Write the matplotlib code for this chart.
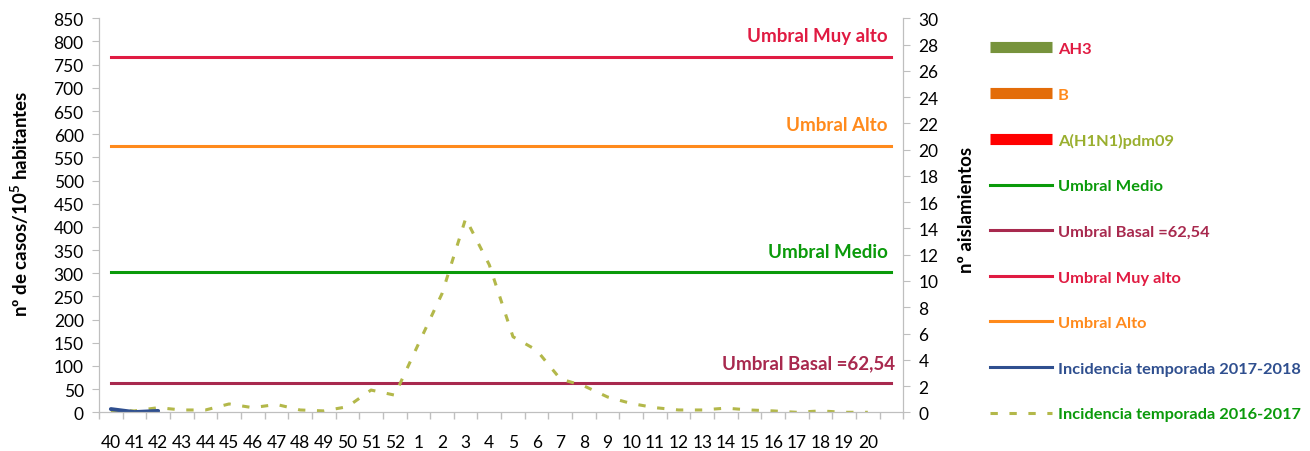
import matplotlib
matplotlib.use("Agg")
import matplotlib.pyplot as plt
from matplotlib.lines import Line2D
import numpy as np

plt.rcParams['font.family'] = ['Lato', 'DejaVu Sans']
plt.rcParams['mathtext.fontset'] = 'custom'
plt.rcParams['mathtext.rm'] = 'Lato'
plt.rcParams['mathtext.bf'] = 'Lato:bold'

# ---- data ----
weeks = ['40', '41', '42', '43', '44', '45', '46', '47', '48', '49', '50', '51', '52',
         '1', '2', '3', '4', '5', '6', '7', '8', '9', '10', '11', '12', '13', '14', '15',
         '16', '17', '18', '19', '20', '']
inc_2017_2018 = [7, 0.5, 3]
inc_2016_2017 = [4, 3, 10, 5, 5, 18, 10, 17, 5, 3, 12, 48, 37,
                 147, 256, 418, 318, 163, 134, 72, 57, 33, 19, 10, 5, 5, 9, 5,
                 3, 0, 3, 0, 0]
ah3 = [0] * len(weeks)
b = [0] * len(weeks)
h1n1 = [0] * len(weeks)
umbral_basal = 62.54
umbral_medio = 303
umbral_alto = 575
umbral_muy_alto = 767
left_ticks = list(range(0, 851, 50))
right_ticks = list(range(0, 31, 2))

# ---- colors ----
c_ah3 = '#77933C'
c_b = '#E36C09'
c_h1n1 = '#FF0000'
c_medio = '#0A9A0A'
c_basal = '#A8294E'
c_muy = '#E01B42'
c_alto = '#FF8A1C'
c_blue = '#2F4F8F'
c_dash = '#B3B84A'
c_h1n1_txt = '#9AAF2F'
gray = '#BFBFBF'

W, H = 1310, 452
fig = plt.figure(figsize=(W / 100, H / 100), dpi=100)
ax = fig.add_axes([99 / W, 1 - 413.3 / H, (903.3 - 99) / W, (413.3 - 19.3) / H])
ax2 = ax.twinx()

x = np.arange(len(weeks))

# bars (isolates, right axis) - none in this period
ax2.bar(x, ah3, color=c_ah3, width=0.6)
ax2.bar(x, b, bottom=ah3, color=c_b, width=0.6)
ax2.bar(x, h1n1, bottom=np.add(ah3, b), color=c_h1n1, width=0.6)

lw = 2.2
ax.plot(x, [umbral_muy_alto] * len(x), color=c_muy, lw=lw)
ax.plot(x, [umbral_alto] * len(x), color=c_alto, lw=lw)
ax.plot(x, [umbral_medio] * len(x), color=c_medio, lw=lw)
ax.plot(x, [umbral_basal] * len(x), color=c_basal, lw=lw)
ax.plot(x[:len(inc_2016_2017)], inc_2016_2017, color=c_dash, lw=lw,
        dashes=(2.4, 3.8), dash_capstyle='butt')
ax.plot(x[:len(inc_2017_2018)], inc_2017_2018, color=c_blue, lw=2.8,
        solid_capstyle='round')

ax.set_xlim(-0.5, len(weeks) - 0.5)
ax.set_ylim(0, 850)
ax2.set_ylim(0, 30)

fs_tick = 12.5
# ticks
ax.set_xticks(x)
ax.set_xticklabels(weeks)
ax.set_xticks(np.arange(-0.5, len(weeks)), minor=True)
ax.tick_params(axis='x', which='major', length=0, pad=15.5, labelsize=fs_tick, colors='#000000')
ax.tick_params(axis='x', which='minor', length=5, color=gray, width=1)
ax.set_yticks(left_ticks)
ax.tick_params(axis='y', length=5, color=gray, labelsize=fs_tick, pad=6)
ax2.set_yticks(right_ticks)
ax2.tick_params(axis='y', length=5, color=gray, labelsize=fs_tick, pad=6)

for a in (ax, ax2):
    a.spines['top'].set_visible(False)
    a.spines['left'].set_color(gray)
    a.spines['right'].set_color(gray)
    a.spines['bottom'].set_color(gray)

# threshold labels
lbl_x = 32.85
for val, txt, col, xx in [(umbral_muy_alto, 'Umbral Muy alto', c_muy, lbl_x),
                          (umbral_alto, 'Umbral Alto', c_alto, lbl_x),
                          (umbral_medio, 'Umbral Medio', c_medio, lbl_x),
                          (umbral_basal, 'Umbral Basal =62,54', c_basal, 33.15)]:
    ax.annotate(txt, xy=(xx, val), xytext=(0, 15), textcoords='offset points',
                ha='right', va='center', color=col, fontsize=13.5, fontweight='bold')

# axis labels
fig.text(20 / W, 1 - 204 / H, r'nº de casos/10$^{\mathbf{5}}$ habitantes', rotation=90,
         ha='center', va='center', fontsize=13.5, fontweight='bold')
fig.text(967 / W, 1 - 210 / H, 'nº aislamientos', rotation=90,
         ha='center', va='center', fontsize=13.5, fontweight='bold')

# legend
handles = [
    Line2D([], [], color=c_ah3, lw=8, solid_capstyle='butt'),
    Line2D([], [], color=c_b, lw=8, solid_capstyle='butt'),
    Line2D([], [], color=c_h1n1, lw=8, solid_capstyle='butt'),
    Line2D([], [], color=c_medio, lw=lw),
    Line2D([], [], color=c_basal, lw=lw),
    Line2D([], [], color=c_muy, lw=lw),
    Line2D([], [], color=c_alto, lw=lw),
    Line2D([], [], color=c_blue, lw=lw),
    Line2D([], [], color=c_dash, lw=lw, dashes=(2.4, 3.8), dash_capstyle='butt'),
]
labels = ['AH3', 'B', 'A(H1N1)pdm09', 'Umbral Medio', 'Umbral Basal =62,54',
          'Umbral Muy alto', 'Umbral Alto', 'Incidencia temporada 2017-2018',
          'Incidencia temporada 2016-2017']
txt_colors = [c_muy, c_alto, c_h1n1_txt, c_medio, c_basal, c_muy, c_alto, c_blue, c_medio]
leg = fig.legend(handles, labels, loc='upper left', bbox_to_anchor=(990 / W, 1 - 42.5 / H),
                 frameon=False, handlelength=3.8, handletextpad=0.35,
                 labelspacing=1.9, borderaxespad=0, borderpad=0,
                 prop={'size': 11.8, 'weight': 'bold'})
for t, c in zip(leg.get_texts(), txt_colors):
    t.set_color(c)

fig.savefig('out.png', dpi=100)
